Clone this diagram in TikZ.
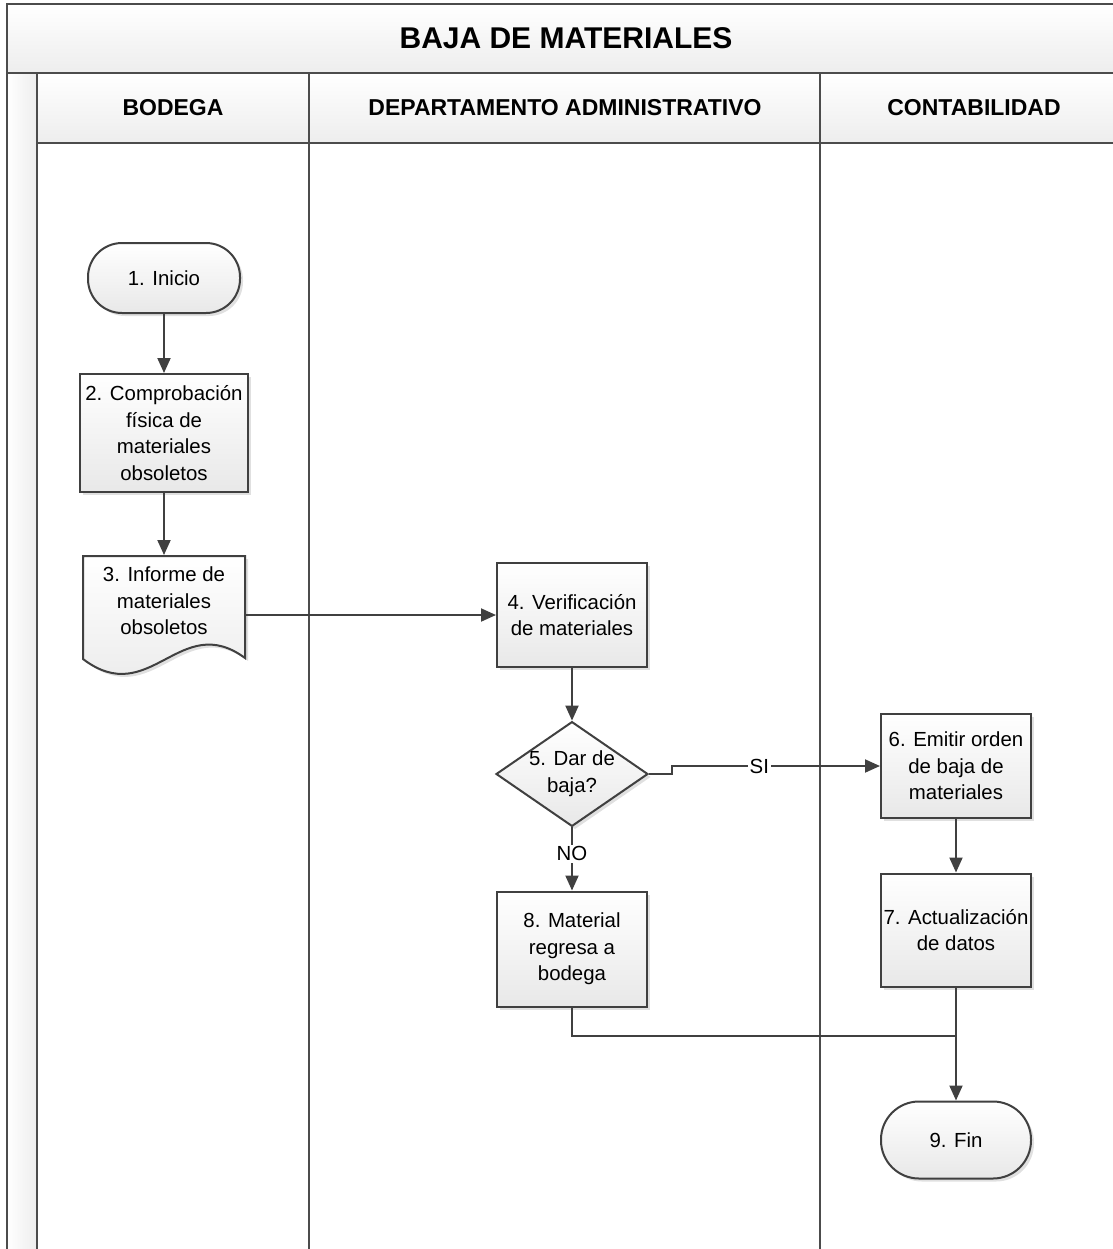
\documentclass[tikz,border=0pt]{standalone}
\usepackage{fontspec}
\setmainfont{Liberation Sans}
\usetikzlibrary{arrows.meta,shapes.geometric,shadows}

\begin{document}
\begin{tikzpicture}[x=0.5pt,y=-0.5pt,line width=1pt,
    carril/.style={draw=black!70},
    relleno/.style={draw=black!75,top color=white,bottom color=black!9,
        drop shadow={shadow xshift=1.5pt,shadow yshift=-1.5pt,fill=black!20,opacity=.6}},
    proceso/.style={relleno,rectangle,minimum width=75pt,minimum height=52pt,align=center,
        inner xsep=1.5pt,font=\fontsize{10.2}{13.3}\selectfont},
    terminal/.style={proceso,rounded corners=17pt,minimum height=35pt},
    decision/.style={proceso,diamond,aspect=1.45,inner sep=0pt,minimum height=51.5pt},
    cabecera/.style={font=\bfseries\fontsize{11.5}{14}\selectfont},
    flecha/.style={draw=black!75,-{Triangle[length=7.5pt,width=6.5pt]}},
    linea/.style={draw=black!75},
    etiqueta/.style={fill=white,inner sep=1pt,font=\fontsize{10.2}{12}\selectfont}]
    \clip (0,0) rectangle (1113,1249);
    % carriles
    \path[top color=white,bottom color=black!7] (7,4) rectangle (1130,73);
    \path[top color=white,bottom color=black!7] (37,73) rectangle (1130,143);
    \path[left color=white,right color=black!7] (7,73) rectangle (37,1260);
    \draw[carril] (7,1260) -- (7,4) -- (1130,4);
    \draw[carril] (7,73) -- (1130,73);
    \draw[carril] (37,143) -- (1130,143);
    \foreach \x in {37,309,820}
        \draw[carril] (\x,73) -- (\x,1260);
    \node[font=\bfseries\fontsize{15}{18}\selectfont] (titulo) at (566,38) {BAJA DE MATERIALES};
    \node[cabecera] (bodega) at (173,108) {BODEGA};
    \node[cabecera] (admin) at (565,108) {DEPARTAMENTO ADMINISTRATIVO};
    \node[cabecera] (conta) at (974,108) {CONTABILIDAD};
    % pasos
    \node[terminal,minimum width=76pt] (1) at (164,278) {1. Inicio};
    \node[proceso,minimum width=84pt,minimum height=59pt] (2) at (164,433) {2. Comprobación\\física de\\materiales\\obsoletos};
    \path[relleno] (83,556) -- (245,556) -- (245,658) .. controls (180,610) and (150,710) .. (83,659) -- cycle;
    \node[align=center,inner sep=0pt,minimum width=81pt,minimum height=51pt,
        font=\fontsize{10.2}{13.3}\selectfont] (3) at (164,601) {3. Informe de\\materiales\\obsoletos};
    \node[proceso] (4) at (572,615) {4. Verificación\\de materiales};
    \node[decision] (5) at (572,774) {5. Dar de\\baja?};
    \node[proceso] (6) at (956,766) {6. Emitir orden\\de baja de\\materiales};
    \node[proceso,minimum height=56.5pt] (7) at (956,930) {7. Actualización\\de datos};
    \node[proceso,minimum height=57.5pt] (8) at (572,949) {8. Material\\regresa a\\bodega};
    \node[terminal,minimum height=38.5pt,rounded corners=19pt] (9) at (956,1140) {9. Fin};
    \coordinate (union) at (956,1036);
    % conexiones
    \draw[flecha] (1) -- (2);
    \draw[flecha] (2) -- ([yshift=-3pt]3.north);
    \draw[flecha] (3.east |- 4) -- (4);
    \draw[flecha] (4) -- (5);
    \draw[flecha] (5.east) -- ++(23,0) |- node[etiqueta,pos=0.71]{SI} (6.west);
    \draw[flecha] (5) -- node[etiqueta,pos=0.42]{NO} (8);
    \draw[flecha] (6) -- (7);
    \draw[linea] (8) |- (union);
    \draw[flecha] (7) -- (9);
\end{tikzpicture}
\end{document}
